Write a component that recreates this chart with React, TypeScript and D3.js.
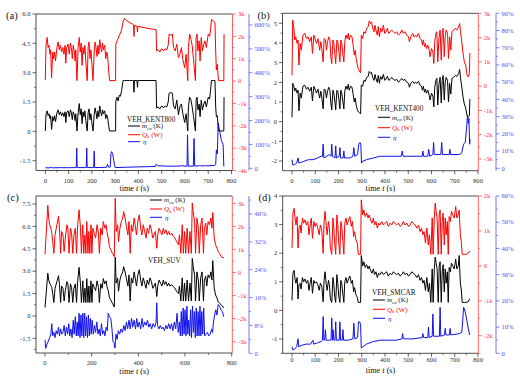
import React from "react";
import * as d3 from "d3";

// ---------------- Panel (a) VEH_KENT800 ----------------
const tA = [0,3,8,12,16,20,23,27,32,36,40,44,50,55,60,65,70,75,80,85,88,92,98,103,108,112,116,120,125,128,131,136,141,146,150,154,158,162,166,170,174,180,184,188,192,196,200,205,210,214,218,222,226,230,234,238,242,246,250,255,260,264,268,272,276,302,303,308,313,318,323,328,334,340,350,362,375,379,381,383,394,396,398,420,445,476,478,485,492,500,508,515,522,528,532,540,546,551,558,565,572,578,585,591,599,605,612,615,620,626,631,637,645,648,652,656,661,665,670,675,681,686,692,700,706,710,714,722,729,732,735,739,744,767,768];
const qA = [0.05,1.6,1.95,1.5,1.6,1.2,1.4,0.15,1.3,1.0,1.3,0.9,1.5,1.75,1.4,1.6,1.3,1.5,1.2,1.6,0.8,1.5,1.65,1.2,1.7,1.5,1.0,1.6,1.3,0.9,1.4,0.02,1.5,1.95,1.3,1.7,0.7,1.5,1.2,1.6,0.9,0.02,1.5,1.75,1.0,1.4,0.8,0.02,1.3,1.75,1.5,1.1,1.6,1.2,1.85,1.5,1.3,1.7,1.4,1.6,1.0,1.3,1.1,0.5,0.02,0.02,1.65,1.8,1.9,2.05,2.15,2.3,2.65,2.8,2.7,2.62,2.55,2.5,2.0,2.5,2.45,2.2,2.45,2.4,2.35,2.3,1.35,1.4,1.3,1.45,1.35,1.45,1.4,1.6,2.1,2.05,2.1,1.5,1.35,1.65,1.05,1.2,1.5,0.95,0.6,1.2,0.02,1.5,2.1,1.85,1.6,0.95,0.02,1.95,2.1,1.35,1.8,0.9,1.95,1.35,1.65,1.8,1.5,2.1,2.0,2.3,2.75,2.7,2.6,1.35,0.5,0.75,0.02,0.02,2.1];
const mA = [0.02,0.85,1.05,0.8,0.9,0.65,0.8,0.1,0.75,0.55,0.8,0.5,0.95,1.1,0.85,1.0,0.8,0.95,0.75,1.0,0.45,0.95,1.05,0.75,1.1,0.95,0.6,1.0,0.8,0.55,0.9,0.02,0.95,1.42,0.85,1.15,0.4,1.0,0.75,1.05,0.55,0.02,0.95,1.15,0.6,0.9,0.45,0.02,0.85,1.2,0.95,0.65,1.05,0.75,1.3,1.0,0.8,1.1,0.9,1.05,0.65,0.85,0.7,0.3,0.02,0.02,1.55,1.75,1.55,1.85,1.8,2.1,2.6,2.6,2.6,2.6,2.6,2.6,2.0,2.6,2.6,2.25,2.6,2.6,2.6,2.6,1.2,1.25,1.15,1.3,1.2,1.3,1.25,1.5,1.95,1.98,1.95,1.3,1.15,1.6,0.85,1.25,1.4,0.9,0.45,0.9,0.02,1.25,1.75,1.6,1.25,0.75,0.02,1.6,1.75,1.1,1.4,0.75,1.6,1.1,1.4,1.55,1.25,1.75,1.65,2.1,2.6,2.6,2.6,1.25,0.75,0.8,0.02,0.02,1.75];
const etaTA = [0,20,26,30,60,100,133,135,137,176,178,180,208,210,212,240,263,267,271,279,282,285,289,292,297,300,350,400,450,473,476,482,520,560,586,589,592,609,611,614,636,639,642,660,663,666,682,685,688,728,732,735,739,743,750,757,764,767];
const etaA = [2,2,5,2,2.5,2.5,3,85,3,3,85,3,3,72,3,3.5,4,17,5,5,62,70,62,45,18,3,4.5,6,7,8,17,11,9,9,10,14,9,9,140,9,9,125,9,10,13,10,10,13,10,12,15,77,60,190,150,115,100,8];

// ---------------- Panel (b) VEH_KENT400 ----------------
const tB = [0,3,7,12,16,22,26,30,35,40,47,55,62,69,76,83,88,94,101,105,112,119,124,128,134,138,144,148,153,158,163,167,171,176,180,184,188,193,197,201,206,210,214,219,223,227,232,237,242,246,252,258,263,268,272,276,281,285,291,295,298,304,309,315,321,328,332,338,342,347,353,357,361,367,371,376,381,387,393,399,404,410,416,422,429,436,443,450,458,465,472,479,486,494,501,505,511,519,525,531,537,544,551,557,561,565,570,574,578,584,590,594,600,606,610,614,619,623,627,632,637,642,646,650,655,659,663,669,673,678,683,688,695,702,709,717,721,725,731,735,741,747,753,758,763,765];
const qB = [0.45,2.72,2.51,1.90,2.03,1.76,1.90,0.87,1.76,1.48,2.10,2.17,1.96,2.03,1.83,2.03,1.35,2.10,1.90,1.76,1.96,1.48,1.83,1.55,1.00,1.96,1.90,1.48,1.83,2.03,1.90,1.21,0.93,1.90,1.76,1.35,0.93,1.90,1.83,1.48,1.00,1.90,1.76,1.28,1.00,1.83,2.10,1.96,2.17,1.90,2.10,2.03,1.69,1.28,1.48,1.14,0.87,0.73,0.59,0.55,2.10,1.96,2.24,2.17,2.38,2.45,2.69,2.58,2.65,2.38,2.24,2.51,2.31,2.10,2.45,2.03,2.38,2.24,2.51,2.17,2.24,2.38,2.17,2.24,2.31,2.24,2.17,2.24,2.10,2.17,2.31,2.17,2.24,2.10,2.03,1.83,2.03,2.17,2.03,2.10,2.03,2.17,1.96,1.90,1.69,1.90,1.62,1.76,1.55,1.69,1.48,1.21,1.55,1.41,0.93,1.83,2.17,2.24,1.00,1.96,2.31,1.07,2.17,2.38,1.21,2.03,2.31,2.17,1.14,2.03,1.48,2.24,2.31,2.38,2.31,2.45,2.58,2.24,1.76,1.41,1.00,0.87,0.45,0.38,0.52,1.37];
const mB = [0.22,1.95,1.85,1.55,1.70,1.45,1.60,0.55,1.45,1.20,1.80,1.85,1.65,1.75,1.55,1.75,1.05,1.80,1.60,1.45,1.65,1.20,1.55,1.25,0.65,1.65,1.60,1.20,1.55,1.75,1.60,0.95,0.60,1.60,1.45,1.05,0.60,1.60,1.55,1.20,0.65,1.60,1.45,1.00,0.65,1.55,1.80,1.65,1.90,1.60,1.80,1.75,1.40,1.00,1.20,0.85,0.60,0.50,0.45,0.40,1.85,1.80,2.10,2.05,2.25,2.30,2.55,2.45,2.50,2.25,2.10,2.40,2.20,2.00,2.35,1.95,2.30,2.15,2.40,2.10,2.15,2.30,2.10,2.15,2.25,2.15,2.10,2.15,2.00,2.10,2.20,2.10,2.15,2.00,1.95,1.75,1.95,2.05,1.95,2.00,1.95,2.05,1.85,1.80,1.60,1.80,1.50,1.65,1.45,1.60,1.35,1.10,1.45,1.30,0.75,1.75,2.10,2.20,0.85,1.90,2.25,0.95,2.10,2.35,1.10,2.00,2.25,2.10,1.00,1.95,1.40,2.20,2.25,2.35,2.30,2.45,2.65,2.20,1.70,1.30,0.90,0.70,0.30,0.25,0.30,1.15];
const etaTB = [0,3,10,20,26,30,50,70,90,110,125,131,134,137,150,160,168,171,174,185,188,191,203,206,209,220,223,226,250,262,266,270,282,287,292,296,299,303,320,350,380,400,420,450,470,474,478,520,560,563,566,584,588,592,606,609,612,640,644,647,676,679,682,720,730,738,745,750,755,758,761,764,766];
const etaB = [5,2,2,3,6,3,4,5,5,6,7,7,14,6,7,8,7,14,7,6,13,6,7,12,6,6,10,6,6,7,12,7,8,14,15,14,3,4,5,6,7,7,7,7,7,10,7,7,7,10,7,7,11,7,8,15,8,8,15,8,8,11,8,8,9,14,15,22,31,26,29,14,17];

// ---------------- Panel (c) VEH_SUV ----------------
const tC = [0,12,16,20,25,29,33,38,43,51,58,62,67,71,77,82,87,94,98,103,109,114,119,124,130,135,140,146,152,156,162,166,171,175,179,184,188,192,197,201,205,211,217,223,229,233,239,245,250,256,262,265,271,276,282,289,297,301,305,311,315,321,327,333,337,343,349,355,360,365,370,376,382,388,392,398,404,410,415,421,427,433,438,444,450,456,462,467,473,479,483,489,495,501,507,512,518,524,530,535,543,550,557,564,572,576,582,588,593,598,603,609,615,621,627,631,635,641,645,651,657,661,667,673,679,683,689,693,699,705,711,715,719,725,731,737,742,748,755,763,767];
const qC = [0.79,2.91,2.36,2.07,1.92,1.70,1.34,0.83,1.63,2.07,2.43,1.92,0.83,1.78,1.63,0.91,1.49,2.07,1.92,0.83,1.92,1.70,0.83,1.63,1.92,0.83,2.07,2.72,1.92,0.83,2.07,0.83,1.63,0.83,2.21,0.83,1.78,0.83,2.07,0.83,1.92,1.70,1.49,2.07,1.70,0.83,1.92,1.63,2.21,1.92,2.07,1.78,1.49,1.12,0.98,0.83,0.69,3.22,1.78,2.07,1.34,1.92,2.21,2.36,2.64,2.36,1.99,1.63,2.21,0.83,2.07,1.78,2.36,1.92,1.63,2.21,2.50,1.92,1.63,2.07,1.78,1.49,1.92,1.70,2.07,1.85,1.49,1.63,1.78,1.05,1.63,1.92,1.78,1.63,1.92,1.70,1.85,1.63,1.78,1.63,1.70,1.56,1.49,1.34,1.20,1.63,0.83,2.07,0.83,1.78,0.83,1.92,0.83,1.78,0.83,3.01,2.64,2.21,0.83,2.36,1.92,0.83,2.07,2.36,0.83,1.92,2.14,1.63,2.21,2.07,2.36,1.92,2.60,1.49,1.20,1.05,0.91,0.83,0.69,0.64,0.64];
const mC = [0.56,2.86,2.4,2.2,2.05,1.9,1.5,0.9,1.85,2.3,2.7,2.1,0.9,2.0,1.85,1.0,1.7,2.3,2.15,0.9,2.15,1.9,0.9,1.85,2.15,0.9,2.35,3.25,2.15,0.9,2.35,0.9,1.85,0.9,2.5,0.9,2.0,0.9,2.35,0.9,2.15,1.9,1.7,2.35,1.9,0.9,2.15,1.85,2.5,2.15,2.35,2.0,1.7,1.25,1.05,0.85,0.6,3.95,2.2,2.55,1.65,2.4,2.75,2.95,3.3,2.95,2.5,2.0,2.75,1.0,2.55,2.2,2.95,2.4,2.0,2.75,3.1,2.4,2.0,2.55,2.2,1.85,2.4,2.1,2.55,2.3,1.85,2.0,2.2,1.3,2.0,2.4,2.2,2.0,2.4,2.1,2.3,2.0,2.2,2.0,2.1,1.95,1.85,1.65,1.5,2.0,1.0,2.55,1.0,2.2,1.0,2.4,1.0,2.2,1.0,3.85,3.3,2.75,1.0,2.95,2.4,1.0,2.55,2.95,1.0,2.4,2.65,2.0,2.75,2.55,2.95,2.4,3.7,1.85,1.4,1.2,0.95,0.85,0.75,0.6,0.55];
const etaTC = [0,3,8,14,20,25,29,33,38,43,48,53,58,62,67,72,77,82,87,92,97,102,106,111,116,121,125,130,134,138,142,146,150,154,158,162,166,170,174,178,182,186,190,194,198,202,207,212,217,222,227,232,237,242,247,252,257,262,267,271,276,282,287,291,296,300,304,309,314,320,326,332,338,343,349,354,360,365,371,376,382,388,393,398,404,410,416,421,427,433,439,445,451,457,463,470,476,479,482,488,494,500,506,512,518,524,530,536,542,548,554,560,566,571,576,580,584,588,592,596,600,604,608,612,616,620,624,628,632,636,640,644,648,652,656,660,664,668,672,676,680,684,690,696,702,708,714,718,722,727,732,737,742,748,754,760,766];
const etaC = [3.8,1.4,2.5,3.5,4.5,5.5,8.5,5.0,6.0,4.5,6.5,5.5,7.5,5.0,7.0,5.5,6.0,8.0,5.0,7.5,5.5,8.5,5.0,7.0,4.5,9.5,5.5,10.5,5.0,9.0,5.0,11.5,4.5,11.0,5.0,11.5,4.5,11.5,5.0,10.5,4.5,11.0,5.0,10.0,5.5,9.5,5.5,8.0,6.0,9.0,5.5,7.0,5.0,8.5,5.5,6.5,5.0,7.5,6.5,11.5,10.5,10.0,7.0,3.5,3.0,1.5,5.5,4.0,6.5,5.5,7.0,6.0,8.0,6.5,9.0,7.0,9.5,7.0,10.0,7.5,9.5,7.0,10.0,7.5,9.0,7.0,10.0,7.5,9.0,8.0,9.5,7.5,8.5,7.0,8.5,7.5,9.0,14.5,8.0,7.0,8.0,7.0,7.5,6.5,8.0,7.0,8.5,7.0,8.5,6.5,9.0,7.0,11.5,6.0,9.0,5.0,12.0,5.0,13.0,5.5,12.5,5.0,13.5,5.5,9.5,5.0,12.5,4.5,13.5,6.0,12.0,4.5,13.0,5.0,12.0,5.0,13.5,5.0,12.0,5.5,13.0,5.0,5.5,6.0,5.0,5.5,7.0,6.0,9.0,11.0,12.5,11.0,14.0,13.5,12.5,12.0,10.5];

// ---------------- Panel (d) VEH_SMCAR ----------------
const tD = [0,4,9,13,17,22,26,30,35,39,45,50,56,62,68,73,79,83,88,94,99,105,111,117,122,128,134,138,142,147,151,157,161,165,171,176,180,184,188,193,197,201,206,210,214,219,223,227,232,237,243,249,255,260,265,269,275,281,285,295,298,304,309,315,321,327,332,338,344,350,355,361,367,373,378,386,393,400,407,414,422,429,436,443,450,458,465,472,479,486,494,501,508,515,522,529,537,544,551,557,563,568,574,580,586,591,597,603,607,612,616,620,624,629,633,637,642,646,650,655,659,663,668,672,676,681,686,692,698,704,709,715,719,724,728,732,741,750,758,764];
const qD = [0.51,1.51,1.65,1.37,1.17,1.41,0.51,1.08,1.17,0.94,1.37,1.22,1.32,1.17,1.27,0.89,1.22,1.37,0.79,1.27,1.13,1.22,1.08,0.89,1.17,1.03,0.36,1.27,1.56,1.17,0.89,1.27,1.08,0.51,0.33,1.37,1.08,0.60,0.33,1.46,1.17,0.65,0.33,1.27,1.13,0.70,0.33,1.22,1.37,1.17,1.32,1.41,1.13,1.27,0.84,0.98,0.74,0.65,0.33,0.33,1.89,1.46,1.60,1.41,1.51,1.37,1.46,1.32,1.22,1.37,1.17,1.27,1.08,1.22,1.17,1.27,1.17,1.22,1.27,1.13,1.22,1.17,1.27,1.22,1.17,1.22,1.13,1.17,1.27,1.17,1.22,1.13,1.17,1.27,1.22,1.17,1.08,1.17,0.98,1.08,0.89,0.98,0.65,1.08,0.60,0.89,0.33,1.37,0.33,1.37,1.80,1.56,1.37,0.33,1.46,1.60,0.33,1.27,1.51,0.60,1.37,0.89,1.27,0.33,1.41,1.27,1.56,1.46,1.37,1.70,1.37,1.46,1.60,0.89,0.70,0.33,0.33,0.33,0.36,0.43];
const mD = [0.35,1.30,1.40,1.10,0.95,1.15,0.40,0.90,0.95,0.75,1.15,1.00,1.10,0.95,1.05,0.70,1.00,1.15,0.60,1.05,0.95,1.00,0.90,0.70,0.95,0.85,0.30,1.05,1.35,0.95,0.70,1.05,0.90,0.40,0.28,1.15,0.90,0.45,0.28,1.25,0.95,0.50,0.28,1.05,0.95,0.55,0.28,1.00,1.15,0.95,1.10,1.20,0.95,1.05,0.65,0.80,0.55,0.45,0.28,0.28,1.92,1.55,1.70,1.50,1.60,1.45,1.55,1.40,1.30,1.45,1.25,1.35,1.15,1.30,1.25,1.35,1.25,1.30,1.35,1.20,1.30,1.25,1.35,1.30,1.25,1.30,1.20,1.25,1.35,1.25,1.30,1.20,1.25,1.35,1.30,1.25,1.15,1.25,1.05,1.15,0.95,1.05,0.70,1.15,0.65,0.95,0.28,1.45,0.28,1.45,1.86,1.65,1.45,0.28,1.55,1.70,0.28,1.35,1.60,0.65,1.45,0.95,1.35,0.28,1.50,1.35,1.65,1.55,1.45,1.80,1.45,1.55,1.92,0.95,0.75,0.28,0.28,0.28,0.30,0.41];
const etaTD = [0,3,10,20,26,29,40,60,80,90,93,110,125,131,134,137,141,144,147,150,160,168,171,174,177,180,185,188,191,203,206,209,216,219,222,240,262,266,270,282,286,291,295,298,305,320,350,380,400,420,450,473,476,479,520,560,563,566,584,587,590,603,606,609,634,637,640,656,659,662,677,680,683,720,730,734,738,741,747,753,758,764];
const etaD = [2.5,1.3,1.5,2.5,5.5,2.5,3,3.5,3.5,5,3.5,4,4.5,5,14,5,5,9,5,5,5,5,13.5,5,9,5,5,12,5,5,12,5,5,9,5,5,5.5,11.5,5.5,6,12,12,11,2,2.5,3.5,4.5,5,5,5,5,5.5,7.5,5.5,5.5,6,7.5,6,6,10,6,6.5,15,6.5,6.5,17.5,6.5,7,9.5,7,7,9.5,7,7.5,8,12,17.5,17,15,12,9.5,7];

// tick values
const ticksLeftA = [-1.5, 0, 1.5, 3, 4.5, 6];
const ticksLeftB = [-2, -1, 0, 1, 2, 3, 4, 5];
const ticksLeftC = [-1.5, 0, 1.5, 3, 4.5, 6, 7.5];
const ticksLeftD = [-1, 0, 1, 2, 3, 4];
const ticksRedA = [-4, -3, -2, -1, 0, 1, 2, 3];
const ticksRedB = [-3, -2, -1, 0, 1, 2, 3];
const ticksRedC = [-3, -2, -1, 0, 1, 2, 3];
const ticksRedD = [-2, -1, 0, 1, 2];
const ticksBlueA = [0, 100, 200, 300, 400, 500, 600];
const ticksBlueB = [0, 10, 20, 30, 40, 50, 60, 70, 80, 90];
const ticksBlueC = [0, 8, 16, 24, 32, 40];
const ticksBlueD = [0, 10, 20, 30, 40, 50, 60];
const ticksX = [0, 100, 200, 300, 400, 500, 600, 700, 800];
const ticksXC = [0, 200, 400, 600, 800];

const FONT = "'Liberation Serif', 'Times New Roman', serif";
const RED = "#ff0000";
const RED_AX = "#ff3b3b";
const BLUE = "#1010ee";
const BLUE_AX = "#5050f5";
const AX = "#222";

type Cfg = {
  tag: string; tagX: number; tagY: number;
  left: number; right: number; top: number; bottom: number; blueX: number;
  xr: [number, number];
  yL: [number, number, number, number];
  yR: [number, number, number, number];
  yB: [number, number, number, number];
  lt: number[]; lMinor: number; lFmt: (v: number) => string;
  rt: number[]; bt: number[]; bMinor: number;
  xt: number[]; xMinor: number; xLabelY: number; xTitleY: number;
  name: string; nameX: number; nameY: number; legX: number; legRows: number[];
  t: number[]; m: number[]; q: number[]; et: number[]; e: number[];
};

const panels: Cfg[] = [
  { tag: "(a)", tagX: 6, tagY: 18.5, left: 36, right: 232.5, top: 14, bottom: 170.5, blueX: 249,
    xr: [45.3, 231.5], yL: [-1.5, 160.7, 6, 14], yR: [-4, 170.5, 3, 14], yB: [0, 168.3, 600, 25],
    lt: ticksLeftA, lMinor: 0.75, lFmt: (v) => (v === 0 ? "0" : v.toFixed(1)),
    rt: ticksRedA, bt: ticksBlueA, bMinor: 50, xt: ticksX, xMinor: 50, xLabelY: 182.8, xTitleY: 190.5,
    name: "VEH_KENT800", nameX: 127, nameY: 121.8, legX: 128, legRows: [126, 134.7, 141.7],
    t: tA, m: mA, q: qA, et: etaTA, e: etaA },
  { tag: "(b)", tagX: 257.5, tagY: 18.5, left: 282.5, right: 478.3, top: 13.3, bottom: 170.7, blueX: 496,
    xr: [292, 478], yL: [-2, 161, 5, 23.3], yR: [-3, 159, 3, 13.3], yB: [0, 168.3, 90, 13.3],
    lt: ticksLeftB, lMinor: 0.5, lFmt: (v) => String(v),
    rt: ticksRedB, bt: ticksBlueB, bMinor: 5, xt: ticksX, xMinor: 50, xLabelY: 182.8, xTitleY: 190.5,
    name: "VEH_KENT400", nameX: 375, nameY: 111, legX: 378, legRows: [117.3, 127.7, 137.3],
    t: tB, m: mB, q: qB, et: etaTB, e: etaB },
  { tag: "(c)", tagX: 7, tagY: 201, left: 36, right: 232.3, top: 196, bottom: 353, blueX: 249,
    xr: [45, 231.7], yL: [-1.5, 338.3, 7.5, 204], yR: [-3, 341.7, 3, 203.3], yB: [0, 353.3, 40, 214],
    lt: ticksLeftC, lMinor: 0.75, lFmt: (v) => (v === 0 ? "0" : v.toFixed(1)),
    rt: ticksRedC, bt: ticksBlueC, bMinor: 4, xt: ticksXC, xMinor: 100, xLabelY: 364.8, xTitleY: 373.5,
    name: "VEH_SUV", nameX: 148, nameY: 262.5, legX: 150, legRows: [200, 209, 217.3],
    t: tC, m: mC, q: qC, et: etaTC, e: etaC },
  { tag: "(d)", tagX: 258.5, tagY: 201, left: 282.7, right: 478.3, top: 196, bottom: 353.3, blueX: 496,
    xr: [292, 478], yL: [-1, 339, 4, 196], yR: [-2, 335.7, 2, 196], yB: [0, 353.3, 60, 196],
    lt: ticksLeftD, lMinor: 0.5, lFmt: (v) => String(v),
    rt: ticksRedD, bt: ticksBlueD, bMinor: 5, xt: ticksX, xMinor: 50, xLabelY: 362, xTitleY: 372.5,
    name: "VEH_SMCAR", nameX: 372, nameY: 294.8, legX: 373, legRows: [300, 309.3, 318.3],
    t: tD, m: mD, q: qD, et: etaTD, e: etaD },
];

function mk(def: [number, number, number, number]) {
  return d3.scaleLinear().domain([def[0], def[2]]).range([def[1], def[3]]);
}

function minorVals(scale: d3.ScaleLinear<number, number>, step: number, pxA: number, pxB: number, majors: number[]) {
  const a = scale.invert(pxA), b = scale.invert(pxB);
  const lo = Math.min(a, b), hi = Math.max(a, b);
  const start = Math.ceil(lo / step - 1e-6) * step;
  const out: number[] = [];
  for (let v = start; v <= hi + 1e-6; v += step) {
    const r = Math.round(v * 1000) / 1000;
    if (!majors.some((m) => Math.abs(m - r) < 1e-6)) out.push(r);
  }
  return out;
}

function Panel({ c }: { c: Cfg }) {
  const x = d3.scaleLinear().domain([0, 800]).range(c.xr);
  const yL = mk(c.yL);
  const yR = mk(c.yR);
  const yB = mk(c.yB);
  const lineM = d3.line<number>().x((_, i) => x(c.t[i])).y((d) => yL(d));
  const lineQ = d3.line<number>().x((_, i) => x(c.t[i])).y((d) => yR(d));
  const lineE = d3.line<number>().x((_, i) => x(c.et[i])).y((d) => yB(d));
  const lMinor = minorVals(yL, c.lMinor, c.bottom, c.top, c.lt);
  const rMinor = minorVals(yR, 0.5, c.bottom, c.top, c.rt);
  const bMinor = minorVals(yB, c.bMinor, c.bottom, c.top, c.bt);
  const xMinor = minorVals(x, c.xMinor, c.left, c.right, c.xt);
  const fs = 6.6;
  const cx = (c.left + c.right) / 2;
  const L = c.legX;
  return (
    <g>
      {/* data */}
      <path d={lineQ(c.q) || ""} fill="none" stroke={RED} strokeWidth={1} strokeLinejoin="round" />
      <path d={lineM(c.m) || ""} fill="none" stroke="#000" strokeWidth={1} strokeLinejoin="round" />
      <path d={lineE(c.e) || ""} fill="none" stroke={BLUE} strokeWidth={1} strokeLinejoin="round" />

      {/* frame */}
      <line x1={c.left} x2={c.right} y1={c.top} y2={c.top} stroke={AX} strokeWidth={0.8} />
      <line x1={c.left} x2={c.right} y1={c.bottom} y2={c.bottom} stroke={AX} strokeWidth={0.8} />
      <line x1={c.left} x2={c.left} y1={c.top} y2={c.bottom} stroke={AX} strokeWidth={0.8} />
      <line x1={c.right} x2={c.right} y1={c.top} y2={c.bottom} stroke={RED_AX} strokeWidth={0.8} />
      <line x1={c.blueX} x2={c.blueX} y1={c.top} y2={c.bottom} stroke={BLUE_AX} strokeWidth={0.8} />

      {/* left axis */}
      {c.lt.map((v) => (
        <g key={"l" + v}>
          <line x1={c.left - 3.5} x2={c.left} y1={yL(v)} y2={yL(v)} stroke={AX} strokeWidth={0.7} />
          <text x={c.left - 5.5} y={yL(v)} dy="0.34em" textAnchor="end" fontSize={fs} fill="#333" fontFamily={FONT}>{c.lFmt(v)}</text>
        </g>
      ))}
      {lMinor.map((v) => (
        <line key={"lm" + v} x1={c.left - 2} x2={c.left} y1={yL(v)} y2={yL(v)} stroke={AX} strokeWidth={0.6} />
      ))}

      {/* red axis */}
      {c.rt.map((v) => (
        <g key={"r" + v}>
          <line x1={c.right} x2={c.right + 3.5} y1={yR(v)} y2={yR(v)} stroke={RED_AX} strokeWidth={0.7} />
          <text x={c.right + 5.5} y={yR(v)} dy="0.34em" textAnchor="start" fontSize={fs} fill={RED_AX} fontFamily={FONT}>{v === 0 ? "0" : `${v}k`}</text>
        </g>
      ))}
      {rMinor.map((v) => (
        <line key={"rm" + v} x1={c.right} x2={c.right + 2} y1={yR(v)} y2={yR(v)} stroke={RED_AX} strokeWidth={0.6} />
      ))}

      {/* blue axis */}
      {c.bt.map((v) => (
        <g key={"b" + v}>
          <line x1={c.blueX} x2={c.blueX + 3.5} y1={yB(v)} y2={yB(v)} stroke={BLUE_AX} strokeWidth={0.7} />
          <text x={c.blueX + 5.5} y={yB(v)} dy="0.34em" textAnchor="start" fontSize={fs} fill={BLUE_AX} fontFamily={FONT}>{v === 0 ? "0" : `${v}%`}</text>
        </g>
      ))}
      {bMinor.map((v) => (
        <line key={"bm" + v} x1={c.blueX} x2={c.blueX + 2} y1={yB(v)} y2={yB(v)} stroke={BLUE_AX} strokeWidth={0.6} />
      ))}

      {/* x axis */}
      {c.xt.map((v) => (
        <g key={"x" + v}>
          <line x1={x(v)} x2={x(v)} y1={c.bottom} y2={c.bottom + 3.5} stroke={AX} strokeWidth={0.7} />
          <text x={x(v)} y={c.xLabelY} textAnchor="middle" fontSize={fs} fill="#333" fontFamily={FONT}>{v}</text>
        </g>
      ))}
      {xMinor.map((v) => (
        <line key={"xm" + v} x1={x(v)} x2={x(v)} y1={c.bottom} y2={c.bottom + 2} stroke={AX} strokeWidth={0.6} />
      ))}
      <text x={cx} y={c.xTitleY} textAnchor="middle" fontSize={8.2} fill="#111" fontFamily={FONT}>
        time <tspan fontStyle="italic">t</tspan> (s)
      </text>

      {/* panel tag */}
      <text x={c.tagX} y={c.tagY} fontSize={10.5} fill="#111" fontFamily={FONT}>{c.tag}</text>

      {/* legend */}
      <text x={c.nameX} y={c.nameY} fontSize={7.2} fill="#111" fontFamily={FONT}>{c.name}</text>
      <line x1={L} x2={L + 12} y1={c.legRows[0]} y2={c.legRows[0]} stroke="#000" strokeWidth={1} />
      <text x={L + 14} y={c.legRows[0]} dy="0.34em" fontSize={7} fill="#111" fontFamily={FONT}>
        <tspan fontStyle="italic">m</tspan><tspan fontSize={4.8} dy={1.4}>en</tspan><tspan dy={-1.4}> (K)</tspan>
      </text>
      <line x1={L} x2={L + 12} y1={c.legRows[1]} y2={c.legRows[1]} stroke={RED} strokeWidth={1} />
      <text x={L + 14} y={c.legRows[1]} dy="0.34em" fontSize={7} fill={RED} fontFamily={FONT}>
        <tspan fontStyle="italic">Q</tspan><tspan fontSize={4.8} dy={1.4}>h</tspan><tspan dy={-1.4}> (W)</tspan>
      </text>
      <line x1={L} x2={L + 12} y1={c.legRows[2]} y2={c.legRows[2]} stroke={BLUE} strokeWidth={1} />
      <text x={L + 15} y={c.legRows[2]} dy="0.34em" fontSize={7} fill={BLUE} fontFamily={FONT} fontStyle="italic">η</text>
    </g>
  );
}

export default function App() {
  return (
    <svg width={520} height={378} viewBox="0 0 520 378" style={{ position: "absolute", left: 0, top: 0, display: "block" }}>
      <rect x={0} y={0} width={520} height={378} fill="#fff" />
      {panels.map((c) => (
        <Panel key={c.tag} c={c} />
      ))}
    </svg>
  );
}
